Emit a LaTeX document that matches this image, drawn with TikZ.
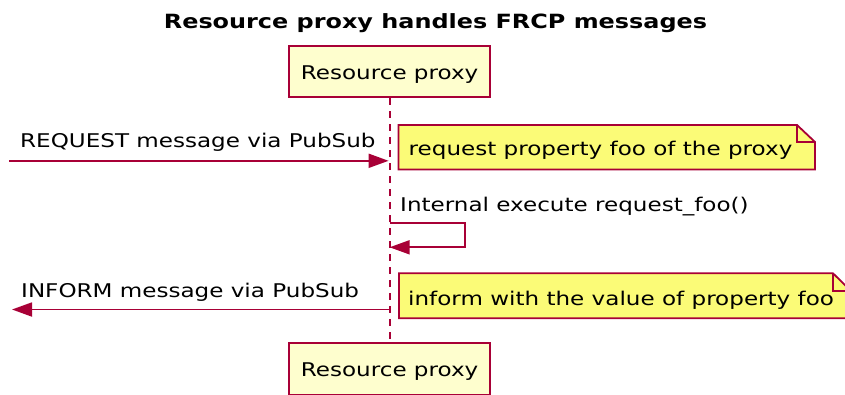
\documentclass[tikz,border=0pt]{standalone}
\usepackage{fontspec}
\setmainfont{DejaVu Sans}[FakeStretch=1.22]
\usetikzlibrary{arrows.meta,backgrounds}
\definecolor{umlred}{HTML}{A80036}
\definecolor{partfill}{HTML}{FEFECE}
\definecolor{notefill}{HTML}{FBFB77}
\tikzset{
  basefont/.style={font=\fontsize{18.9}{22}\selectfont},
  participant/.style={basefont, draw=umlred, fill=partfill, line width=1.8pt,
    minimum width=201.5pt, minimum height=51.6pt, inner sep=0pt,
    text height=20pt, text depth=5pt},
  msglabel/.style={basefont, inner sep=0pt, anchor=base west},
  msgarrow/.style={draw=umlred, line width=1.8pt, -{Triangle[length=20pt,width=14pt]}},
  lifeline/.style={draw=umlred, line width=1.8pt, dash pattern=on 7pt off 6pt},
  notetext/.style={basefont, inner sep=0pt, anchor=base west},
  noteshape/.style={draw=umlred, fill=notefill, line width=1.8pt, line join=miter},
  notefold/.style={draw=umlred, line width=1.8pt, line join=miter}
}
\begin{document}
\begin{tikzpicture}[x=1pt,y=-1pt]
\useasboundingbox (0,0) rectangle (845,394);

% title
\node[font=\bfseries\fontsize{19.6}{23}\selectfont, anchor=base, inner sep=0pt] (title) at (435.5,28.3) {Resource proxy handles FRCP messages};

% participants
\node[participant] (ptop) at (389.6,71.5) {Resource proxy};
\node[participant] (pbot) at (389.6,369.1) {Resource proxy};

% lifeline
\begin{scope}[on background layer]
\draw[lifeline] (ptop.south) -- (pbot.north);
\end{scope}

% REQUEST message
\coordinate (reqL) at (9,160.8);
\coordinate (reqR) at (388.6,160.8);
\draw[msgarrow] (reqL) -- (reqR);
\node[msglabel] (reqlbl) at (20,147.5) {REQUEST message via PubSub};

% note 1
\begin{scope}[on background layer]
\draw[noteshape] (398.5,125) -- (797,125) -- (815,142) -- (815,169.5) -- (398.5,169.5) -- cycle;
\draw[notefold] (797,125) -- (797,142) -- (815,142);
\end{scope}
\node[notetext] (note1) at (408.5,155.7) {request property foo of the proxy};

% self message
\node[msglabel] (selflbl) at (400,211.7) {Internal execute request\_foo()};
\coordinate (selfA) at (389.6,223.3);
\coordinate (selfB) at (389.6,247.3);
\draw[msgarrow] (selfA) -- ++(75.1,0) -- ++(0,24) -- (selfB);

% INFORM message
\coordinate (infR) at (389.6,309.5);
\coordinate (infL) at (12,309.5);
\draw[msgarrow] (infR) -- (infL);
\node[msglabel] (inflbl) at (21,297.5) {INFORM message via PubSub};

% note 2
\begin{scope}[on background layer]
\draw[noteshape] (399,273.3) -- (833,273.3) -- (851,291) -- (851,318.3) -- (399,318.3) -- cycle;
\draw[notefold] (833,273.3) -- (833,291) -- (851,291);
\end{scope}
\node[notetext] (note2) at (408,305.8) {inform with the value of property foo};
\end{tikzpicture}
\end{document}
